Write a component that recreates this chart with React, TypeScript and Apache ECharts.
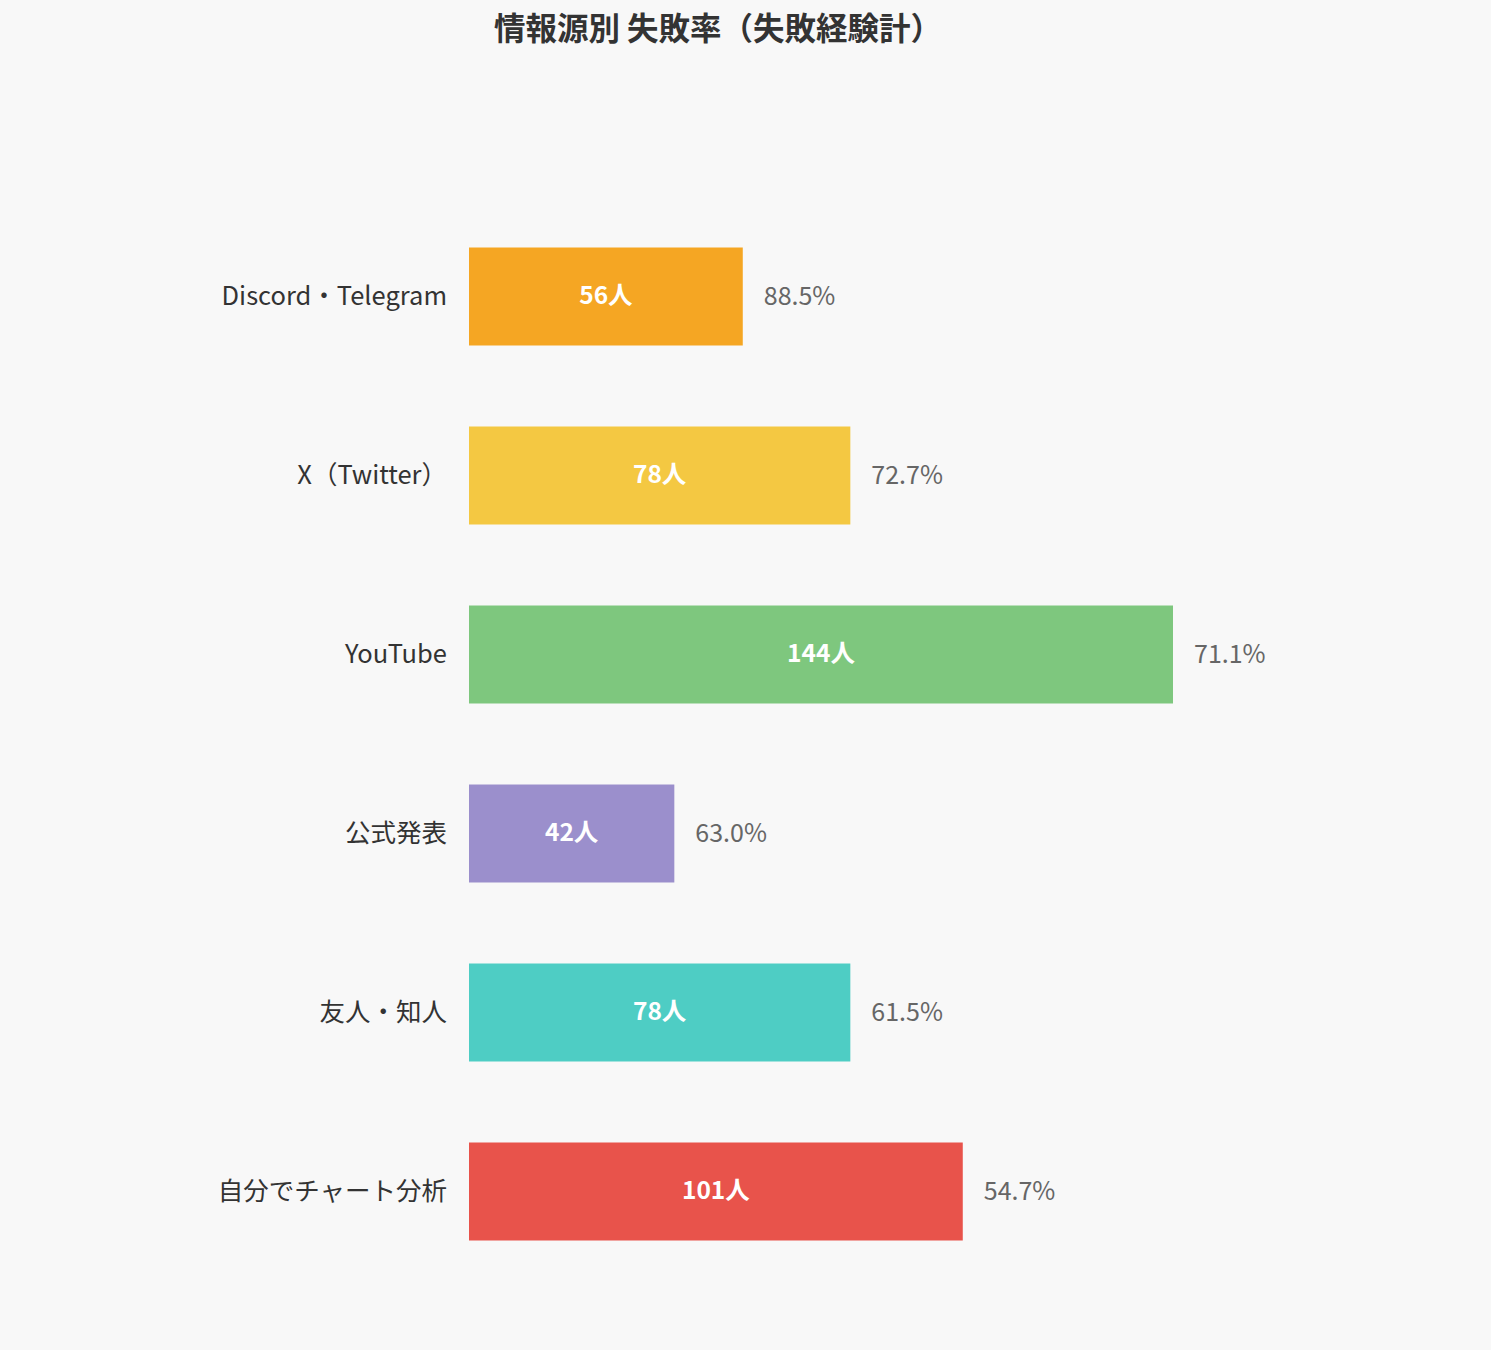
import { useEffect, useRef } from 'react';
import * as echarts from 'echarts';

const FONT = '"Noto Sans CJK JP", "Noto Sans", sans-serif';

const SOURCES = ['Discord・Telegram', 'X（Twitter）', 'YouTube', '公式発表', '友人・知人', '自分でチャート分析'];
const COUNTS = [56, 78, 144, 42, 78, 101];
const FAIL_RATES = ['88.5%', '72.7%', '71.1%', '63.0%', '61.5%', '54.7%'];
const COLORS = ['#f5a623', '#f4c842', '#7ec77e', '#9b8fcc', '#4ecdc4', '#e8534b'];

export default function App() {
  const chartRef = useRef<HTMLDivElement>(null);

  useEffect(() => {
    document.body.style.margin = '0';
    document.body.style.background = '#f8f8f8';
    if (!chartRef.current) return;
    const chart = echarts.init(chartRef.current, undefined, { renderer: 'svg' });
    chart.setOption({
      animation: false,
      backgroundColor: '#f8f8f8',
      textStyle: { fontFamily: FONT },
      title: {
        text: '情報源別 失敗率（失敗経験計）',
        left: 713,
        textAlign: 'center',
        top: 5,
        textStyle: { fontFamily: FONT, fontSize: 31.5, fontWeight: 'bold', color: '#333' },
      },
      grid: { left: 469, top: 207, height: 1074, width: 880, containLabel: false },
      xAxis: { type: 'value', min: 0, max: 180, show: false },
      yAxis: {
        type: 'category',
        inverse: true,
        data: SOURCES,
        axisLine: { show: false },
        axisTick: { show: false },
        axisLabel: {
          fontFamily: FONT,
          fontSize: 25.5,
          color: '#333',
          margin: 22,
          verticalAlign: 'bottom',
          lineHeight: 6,
        },
      },
      series: [
        {
          type: 'bar',
          barWidth: 98,
          data: COUNTS.map((v, i) => ({ value: v, itemStyle: { color: COLORS[i] } })),
          label: {
            show: true,
            position: 'inside',
            offset: [0, -3],
            formatter: (p: any) => `${p.value}人`,
            fontFamily: FONT,
            fontSize: 24.5,
            fontWeight: 'bold',
            color: '#fff',
          },
        },
        {
          type: 'bar',
          barWidth: 98,
          barGap: '-100%',
          silent: true,
          data: COUNTS,
          itemStyle: { color: 'transparent' },
          label: {
            show: true,
            position: 'right',
            distance: 21,
            offset: [0, -3],
            formatter: (p: any) => FAIL_RATES[p.dataIndex],
            fontFamily: FONT,
            fontSize: 25,
            color: '#666',
          },
        },
      ],
    });
    return () => chart.dispose();
  }, []);

  return <div ref={chartRef} style={{ width: 1491, height: 1350 }} />;
}
